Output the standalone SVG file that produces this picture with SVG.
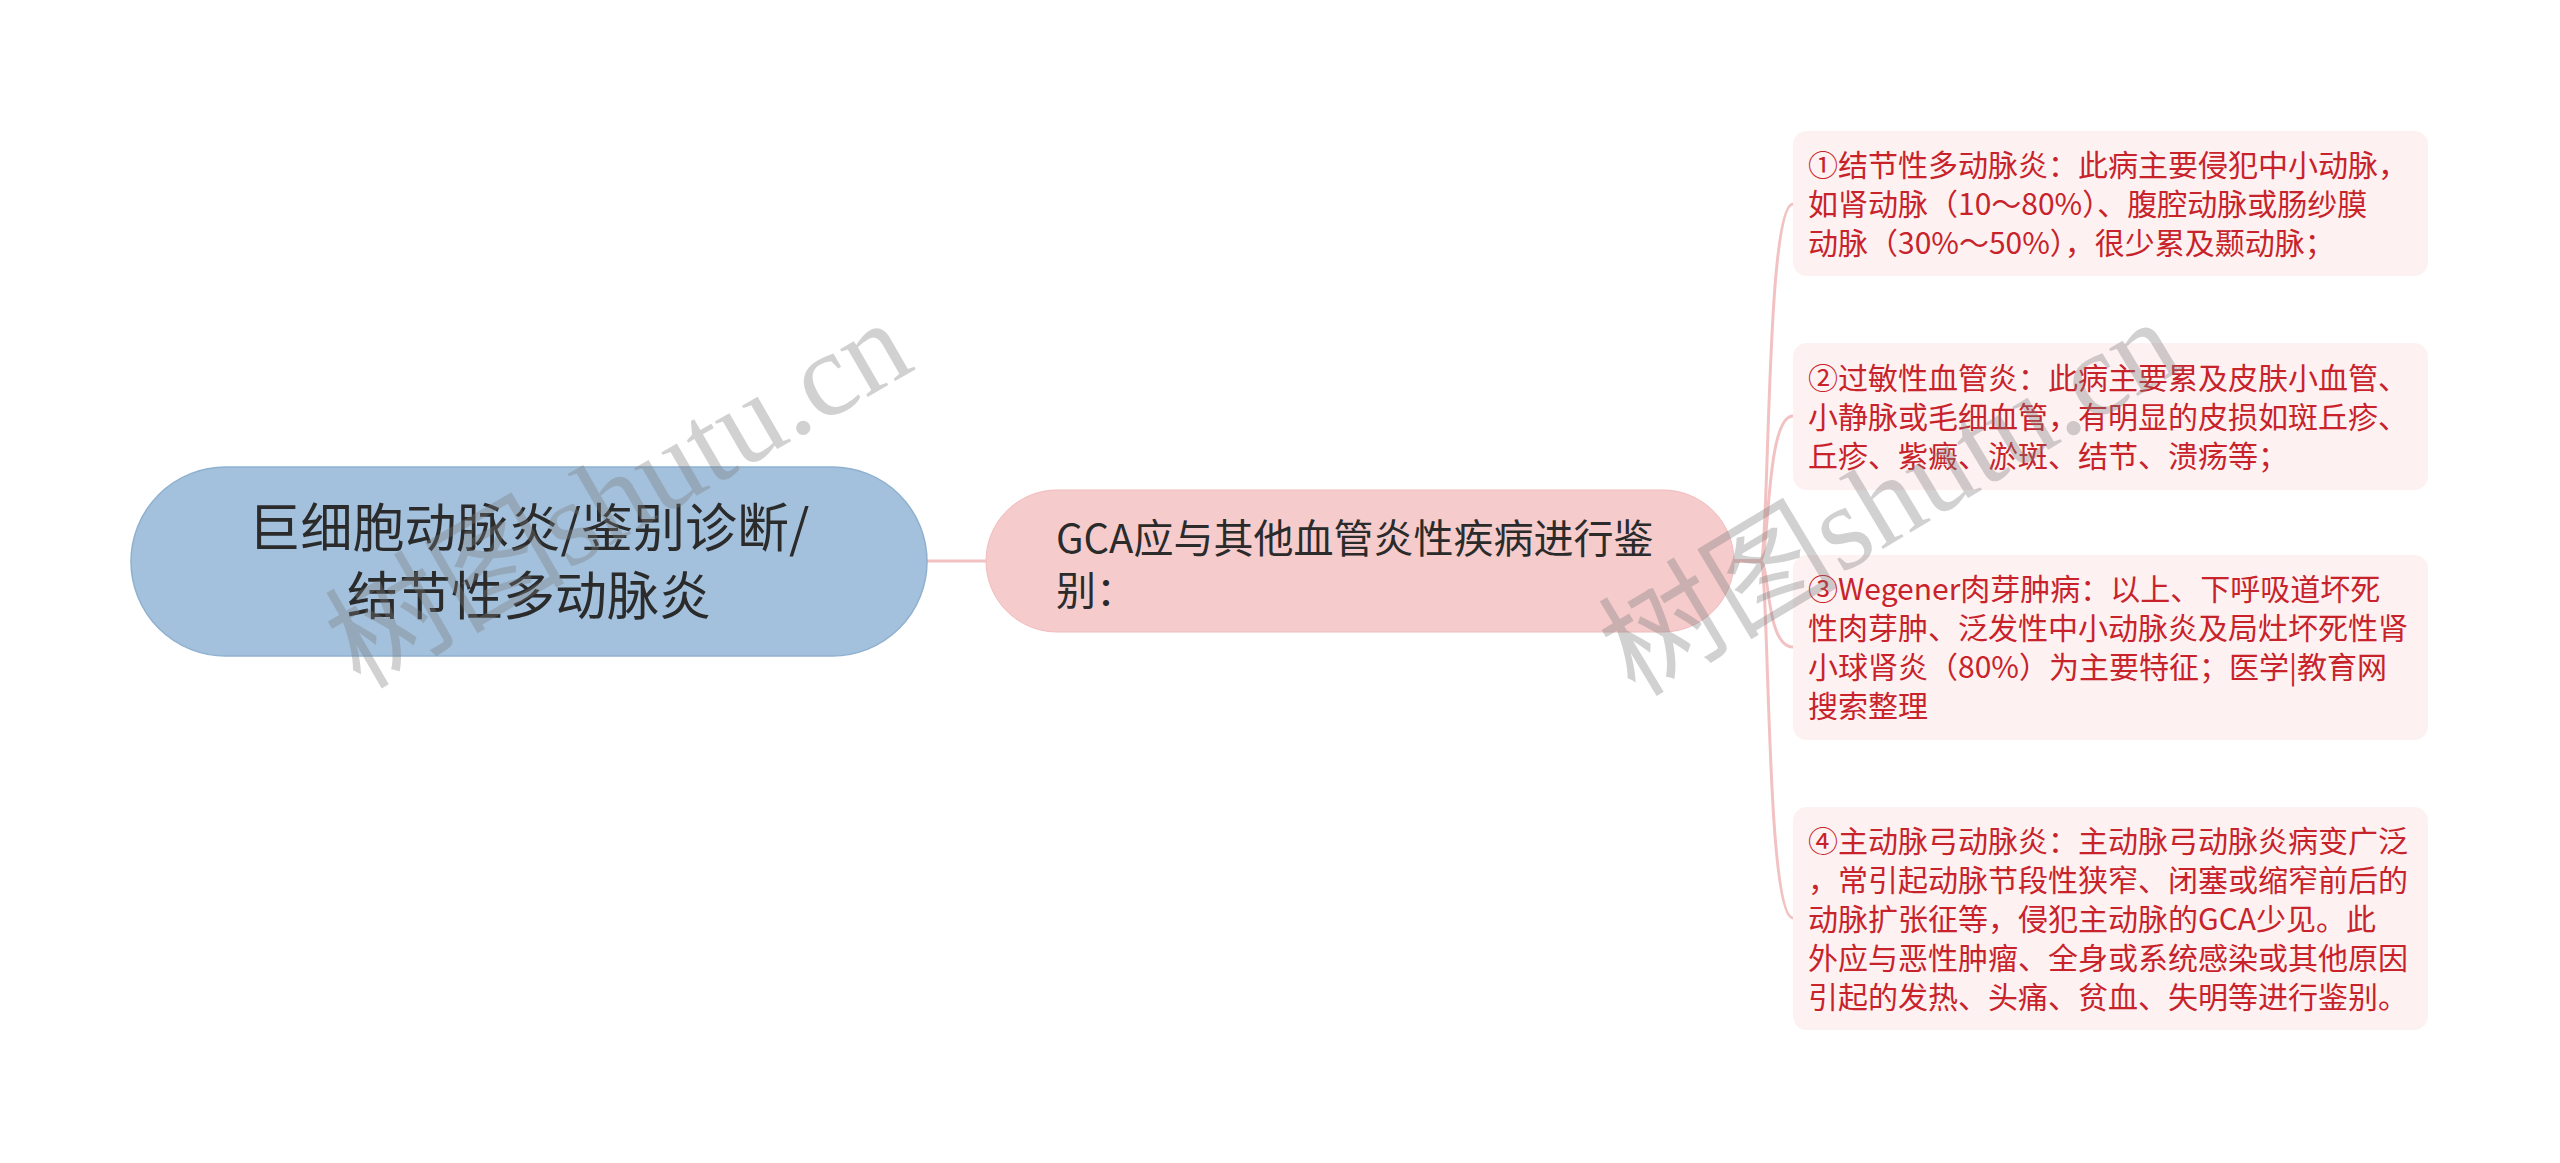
<svg xmlns="http://www.w3.org/2000/svg" width="2560" height="1163" viewBox="0 0 2560 1163">
<style>
.bg{fill:#ffffff}
.root{fill:#a3c1dc;stroke:#8fb1cf;stroke-width:1.5}
.sub{fill:#f5cbcc;stroke:#f0bcbd;stroke-width:1}
.leaf{fill:#fdf1f1}
.t-root{font-family:"Noto Sans CJK SC","Noto Sans",sans-serif;font-size:52px;fill:#2b2b2b;text-anchor:middle}
.t-sub{font-family:"Noto Sans CJK SC","Noto Sans",sans-serif;font-size:40px;fill:#2b2b2b}
.t-leaf{font-family:"Noto Sans CJK SC","Noto Sans",sans-serif;font-size:30px;fill:#c8232b}
.conn{fill:none;stroke:#f2c2c3;stroke-width:3}
.wm{font-family:"Liberation Serif","Noto Sans CJK SC",serif;font-size:120px;fill:#7a7a7a;fill-opacity:0.35}
</style>
<rect class="bg" x="0" y="0" width="2560" height="1163"/>
<g id="connectors">
<path class="conn" d="M927 561 H986"/>
<path class="conn" d="M1734 561 H1760 C1770 561 1765 204 1793 204"/>
<path class="conn" d="M1734 561 H1760 C1770 561 1765 416 1793 416"/>
<path class="conn" d="M1734 561 H1760 C1770 561 1765 647 1793 647"/>
<path class="conn" d="M1734 561 H1760 C1770 561 1765 918 1793 918"/>
</g>
<g id="root">
<rect class="root" x="131" y="467" width="796" height="189" rx="94.5"/>
<text class="t-root" x="529" y="547">巨细胞动脉炎/鉴别诊断/</text>
<text class="t-root" x="529" y="615">结节性多动脉炎</text>
</g>
<g id="node-gca">
<rect class="sub" x="986" y="490" width="748" height="142" rx="71"/>
<text class="t-sub" x="1056" y="553">GCA应与其他血管炎性疾病进行鉴</text>
<text class="t-sub" x="1056" y="605">别：</text>
</g>
<g id="leaf1">
<rect class="leaf" x="1793" y="131" width="635" height="145" rx="14"/>
<text class="t-leaf" x="1808" y="176">①结节性多动脉炎：此病主要侵犯中小动脉，</text>
<text class="t-leaf" x="1808" y="215">如肾动脉（10～80%）、腹腔动脉或肠纱膜</text>
<text class="t-leaf" x="1808" y="254">动脉（30%～50%），很少累及颞动脉；</text>
</g>
<g id="leaf2">
<rect class="leaf" x="1793" y="343" width="635" height="147" rx="14"/>
<text class="t-leaf" x="1808" y="389">②过敏性血管炎：此病主要累及皮肤小血管、</text>
<text class="t-leaf" x="1808" y="428">小静脉或毛细血管，有明显的皮损如斑丘疹、</text>
<text class="t-leaf" x="1808" y="467">丘疹、紫癜、淤斑、结节、溃疡等；</text>
</g>
<g id="leaf3">
<rect class="leaf" x="1793" y="555" width="635" height="185" rx="14"/>
<text class="t-leaf" x="1808" y="600">③Wegener肉芽肿病：以上、下呼吸道坏死</text>
<text class="t-leaf" x="1808" y="639">性肉芽肿、泛发性中小动脉炎及局灶坏死性肾</text>
<text class="t-leaf" x="1808" y="678">小球肾炎（80%）为主要特征；医学|教育网</text>
<text class="t-leaf" x="1808" y="717">搜索整理</text>
</g>
<g id="leaf4">
<rect class="leaf" x="1793" y="807" width="635" height="223" rx="14"/>
<text class="t-leaf" x="1808" y="852">④主动脉弓动脉炎：主动脉弓动脉炎病变广泛</text>
<text class="t-leaf" x="1808" y="891">，常引起动脉节段性狭窄、闭塞或缩窄前后的</text>
<text class="t-leaf" x="1808" y="930">动脉扩张征等，侵犯主动脉的GCA少见。此</text>
<text class="t-leaf" x="1808" y="969">外应与恶性肿瘤、全身或系统感染或其他原因</text>
<text class="t-leaf" x="1808" y="1008">引起的发热、头痛、贫血、失明等进行鉴别。</text>
</g>
<g id="watermarks">
<text class="wm" transform="translate(360 690) rotate(-30)">树图shutu.cn</text>
<text class="wm" transform="translate(1635 698) rotate(-31)">树图shutu.cn</text>
</g>
</svg>
